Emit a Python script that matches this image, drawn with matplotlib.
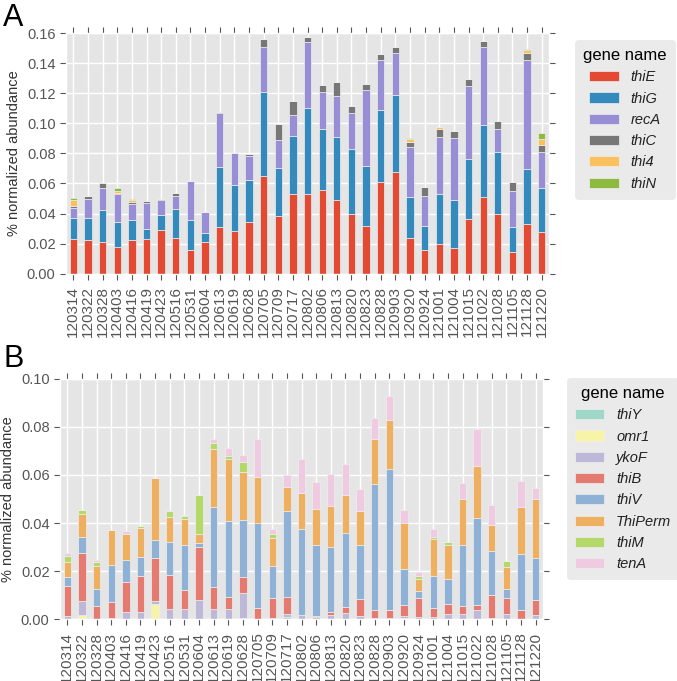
import numpy as np
import matplotlib
matplotlib.use("Agg")
import matplotlib.pyplot as plt

plt.style.use("ggplot")
plt.rcParams["font.family"] = ["Liberation Sans", "DejaVu Sans"]

# sampling dates
dates = ["120314", "120322", "120328", "120403", "120416", "120419", "120423",
         "120516", "120531", "120604", "120613", "120619", "120628", "120705",
         "120709", "120717", "120802", "120806", "120813", "120820", "120823",
         "120828", "120903", "120920", "120924", "121001", "121004", "121015",
         "121022", "121028", "121105", "121128", "121220"]

# panel A (% normalized abundance)
genes_a = ["thiE", "thiG", "recA", "thiC", "thi4", "thiN"]
thiE = [0.0233, 0.0227, 0.0211, 0.0178, 0.0222, 0.0229, 0.0293, 0.0240, 0.0160, 0.0213, 0.0313,
        0.0282, 0.0347, 0.0653, 0.0384, 0.0529, 0.0527, 0.0560, 0.0489, 0.0400, 0.0316, 0.0607,
        0.0678, 0.0236, 0.0160, 0.0200, 0.0173, 0.0364, 0.0509, 0.0400, 0.0147, 0.0333, 0.0278]
thiG = [0.0135, 0.0146, 0.0216, 0.0166, 0.0134, 0.0071, 0.0100, 0.0193, 0.0196, 0.0060, 0.0394,
        0.0307, 0.0273, 0.0554, 0.0316, 0.0387, 0.0573, 0.0400, 0.0422, 0.0427, 0.0400, 0.0482,
        0.0509, 0.0277, 0.0160, 0.0333, 0.0320, 0.0396, 0.0478, 0.0411, 0.0166, 0.0360, 0.0295]
recA = [0.0070, 0.0127, 0.0140, 0.0183, 0.0106, 0.0167, 0.0094, 0.0083, 0.0260, 0.0138, 0.0360,
        0.0211, 0.0162, 0.0297, 0.0187, 0.0137, 0.0440, 0.0247, 0.0269, 0.0240, 0.0507, 0.0333,
        0.0280, 0.0327, 0.0198, 0.0378, 0.0407, 0.0487, 0.0520, 0.0149, 0.0240, 0.0729, 0.0238]
thiC = [0.0010, 0.0016, 0.0037, 0.0013, 0.0016, 0.0017, 0.0009, 0.0024, 0.0000, 0.0000, 0.0005,
        0.0000, 0.0014, 0.0056, 0.0110, 0.0098, 0.0033, 0.0049, 0.0096, 0.0049, 0.0040, 0.0038,
        0.0038, 0.0036, 0.0060, 0.0053, 0.0051, 0.0046, 0.0040, 0.0058, 0.0058, 0.0045, 0.0047]
thi4 = [0.0040, 0.0000, 0.0000, 0.0010, 0.0009, 0.0000, 0.0000, 0.0000, 0.0000, 0.0000, 0.0000,
        0.0000, 0.0000, 0.0000, 0.0000, 0.0000, 0.0000, 0.0000, 0.0000, 0.0000, 0.0000, 0.0000,
        0.0000, 0.0017, 0.0000, 0.0012, 0.0000, 0.0000, 0.0000, 0.0000, 0.0000, 0.0022, 0.0035]
thiN = [0.0015, 0.0000, 0.0000, 0.0020, 0.0009, 0.0000, 0.0000, 0.0000, 0.0000, 0.0000, 0.0000,
        0.0000, 0.0000, 0.0000, 0.0000, 0.0000, 0.0000, 0.0000, 0.0000, 0.0000, 0.0000, 0.0000,
        0.0000, 0.0011, 0.0000, 0.0000, 0.0000, 0.0000, 0.0000, 0.0000, 0.0000, 0.0007, 0.0045]

# panel B
genes_b = ["thiY", "omr1", "ykoF", "thiB", "thiV", "ThiPerm", "thiM", "tenA"]
thiY = [0.0000, 0.0000, 0.0000, 0.0000, 0.0000, 0.0000, 0.0000, 0.0000, 0.0000, 0.0000, 0.0000,
        0.0000, 0.0005, 0.0000, 0.0000, 0.0008, 0.0000, 0.0000, 0.0000, 0.0000, 0.0000, 0.0000,
        0.0000, 0.0000, 0.0000, 0.0000, 0.0000, 0.0000, 0.0000, 0.0000, 0.0000, 0.0000, 0.0000]
omr1 = [0.0000, 0.0017, 0.0000, 0.0000, 0.0000, 0.0000, 0.0061, 0.0000, 0.0000, 0.0000, 0.0000,
        0.0000, 0.0000, 0.0000, 0.0000, 0.0000, 0.0000, 0.0000, 0.0000, 0.0000, 0.0000, 0.0000,
        0.0000, 0.0004, 0.0000, 0.0000, 0.0000, 0.0000, 0.0000, 0.0000, 0.0000, 0.0000, 0.0000]
ykoF = [0.0011, 0.0057, 0.0000, 0.0006, 0.0028, 0.0028, 0.0013, 0.0043, 0.0043, 0.0081, 0.0043,
        0.0043, 0.0105, 0.0000, 0.0005, 0.0012, 0.0015, 0.0007, 0.0018, 0.0026, 0.0011, 0.0005,
        0.0005, 0.0007, 0.0010, 0.0007, 0.0022, 0.0022, 0.0036, 0.0005, 0.0022, 0.0000, 0.0015]
thiB = [0.0126, 0.0201, 0.0054, 0.0066, 0.0128, 0.0151, 0.0180, 0.0142, 0.0076, 0.0219, 0.0090,
        0.0049, 0.0066, 0.0047, 0.0083, 0.0071, 0.0000, 0.0007, 0.0013, 0.0024, 0.0072, 0.0031,
        0.0031, 0.0047, 0.0078, 0.0040, 0.0042, 0.0034, 0.0024, 0.0095, 0.0067, 0.0039, 0.0063]
thiV = [0.0039, 0.0068, 0.0072, 0.0154, 0.0090, 0.0081, 0.0075, 0.0136, 0.0191, 0.0017, 0.0334,
        0.0316, 0.0237, 0.0353, 0.0133, 0.0360, 0.0360, 0.0296, 0.0270, 0.0308, 0.0225, 0.0527,
        0.0590, 0.0152, 0.0030, 0.0132, 0.0103, 0.0254, 0.0362, 0.0183, 0.0035, 0.0233, 0.0178]
ThiPerm = [0.0061, 0.0096, 0.0096, 0.0143, 0.0107, 0.0118, 0.0260, 0.0104, 0.0107, 0.0039, 0.0241,
           0.0260, 0.0200, 0.0192, 0.0118, 0.0098, 0.0150, 0.0147, 0.0168, 0.0160, 0.0142, 0.0186,
           0.0202, 0.0190, 0.0050, 0.0156, 0.0143, 0.0190, 0.0217, 0.0110, 0.0093, 0.0196, 0.0244]
thiM = [0.0025, 0.0014, 0.0014, 0.0000, 0.0000, 0.0010, 0.0000, 0.0025, 0.0011, 0.0159, 0.0025,
        0.0011, 0.0040, 0.0000, 0.0017, 0.0000, 0.0000, 0.0000, 0.0000, 0.0000, 0.0000, 0.0000,
        0.0000, 0.0000, 0.0010, 0.0008, 0.0012, 0.0000, 0.0000, 0.0000, 0.0023, 0.0000, 0.0000]
tenA = [0.0011, 0.0000, 0.0008, 0.0000, 0.0012, 0.0000, 0.0000, 0.0004, 0.0007, 0.0000, 0.0017,
        0.0032, 0.0029, 0.0157, 0.0020, 0.0053, 0.0142, 0.0115, 0.0134, 0.0128, 0.0092, 0.0087,
        0.0100, 0.0054, 0.0018, 0.0032, 0.0000, 0.0068, 0.0151, 0.0083, 0.0000, 0.0106, 0.0046]

colors_a = ["#E24A33", "#348ABD", "#988ED5", "#777777", "#FBC15E", "#8EBA42"]
colors_b = ["#9FD8C8", "#F7F4A8", "#BDB8D8", "#E57B70", "#8FB1D6", "#EEAF60", "#B5D86B", "#F0CAE0"]


def stacked(ax, series, names, colors):
    x = np.arange(len(dates))
    bottom = np.zeros(len(dates))
    for vals, name, col in zip(series, names, colors):
        vals = np.array(vals)
        ax.bar(x, vals, 0.5, bottom=bottom, color=col, label=name,
               edgecolor="#EEEEEE", linewidth=0.5)
        bottom += vals
    ax.set_xlim(-0.5, len(dates) - 0.5)
    ax.set_xticks(x)
    ax.set_xticklabels(dates, rotation=90, fontsize=11)
    ax.tick_params(axis="y", labelsize=10.5)
    ax.tick_params(axis="x", pad=5)
    ax.tick_params(top=True, right=True, direction="out", color="#555555", length=4)
    ax.yaxis.set_major_formatter(matplotlib.ticker.FormatStrFormatter("%.2f"))
    ax.set_ylabel("% normalized abundance", fontsize=10.5, color="#333333")
    ax.grid(True, color="white", linewidth=1)
    ax.set_axisbelow(True)


def add_legend(ax, anchor):
    leg = ax.legend(title="gene name", loc="upper left", bbox_to_anchor=anchor,
                    borderaxespad=0, fontsize=10.5, frameon=True, handlelength=2.0,
                    labelspacing=0.5, borderpad=0.55,
                    title_fontproperties={"size": 12, "weight": "normal"})
    leg.get_frame().set_facecolor("#E5E5E5")
    leg.get_frame().set_edgecolor("#E5E5E5")
    for t in leg.get_texts():
        t.set_fontstyle("italic")
        t.set_color("#222222")


fig = plt.figure(figsize=(6.77, 6.81), dpi=100)
fig.patch.set_facecolor("white")

ax1 = fig.add_axes([0.0975, 0.598, 0.7135, 0.3535])
stacked(ax1, [thiE, thiG, recA, thiC, thi4, thiN], genes_a, colors_a)
ax1.set_ylim(0, 0.16)
ax1.set_yticks(np.arange(0, 0.161, 0.02))
add_legend(ax1, (1.054, 0.971))

ax2 = fig.add_axes([0.0886, 0.091, 0.7135, 0.3525])
stacked(ax2, [thiY, omr1, ykoF, thiB, thiV, ThiPerm, thiM, tenA], genes_b, colors_b)
ax2.set_ylim(0, 0.10)
ax2.set_yticks(np.arange(0, 0.101, 0.02))
add_legend(ax2, (1.05, 1.004))

fig.text(0.005, 0.995, "A", fontsize=22, va="top", ha="left", color="black")
fig.text(0.005, 0.495, "B", fontsize=22, va="top", ha="left", color="black")

fig.savefig("out.png", dpi=100)
